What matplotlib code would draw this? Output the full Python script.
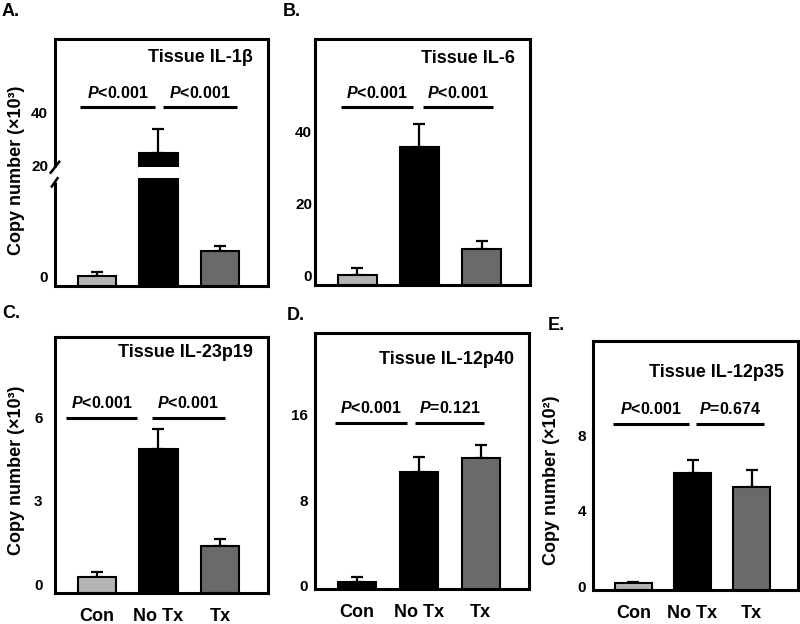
import numpy as np
import matplotlib
matplotlib.use('Agg')
import matplotlib.pyplot as plt

plt.rcParams['font.family'] = ['Liberation Sans', 'DejaVu Sans']
plt.rcParams['font.weight'] = 'bold'
plt.rcParams['mathtext.fontset'] = 'custom'
plt.rcParams['mathtext.rm'] = 'Liberation Sans:bold'
plt.rcParams['mathtext.it'] = 'Liberation Sans:italic:bold'
plt.rcParams['mathtext.bf'] = 'Liberation Sans:bold'

# data (copy number, scaled as on each y axis)
groups = ['Con', 'No Tx', 'Tx']

il1b_mean = [0.0, 24.9, 4.5]
il1b_err = [0.7, 9.1, 0.9]
il1b_p = ['$\\it{P}$<0.001', '$\\it{P}$<0.001']

il6_mean = [0.3, 35.9, 7.4]
il6_err = [1.8, 6.3, 2.4]
il6_p = ['$\\it{P}$<0.001', '$\\it{P}$<0.001']

il23_mean = [0.29, 4.86, 1.39]
il23_err = [0.17, 0.71, 0.25]
il23_p = ['$\\it{P}$<0.001', '$\\it{P}$<0.001']

il12p40_mean = [0.37, 10.65, 11.96]
il12p40_err = [0.47, 1.41, 1.22]
il12p40_p = ['$\\it{P}$<0.001', '$\\it{P}$=0.121']

il12p35_mean = [0.2, 6.0, 5.26]
il12p35_err = [0.08, 0.68, 0.9]
il12p35_p = ['$\\it{P}$<0.001', '$\\it{P}$=0.674']

light = '#b4b4b4'
dark = '#6a6a6a'
W, H = 800, 624

fig = plt.figure(figsize=(8, 6.24), dpi=100)


def make_ax(l, t, r, b):
    return fig.add_axes([l / W, 1 - b / H, (r - l) / W, (b - t) / H])


# broken axis for panel A: values above 20 are compressed
def fwd(v):
    v = np.asarray(v, dtype=float)
    return np.where(v <= 20, v, 20 + (v - 20) * 0.4775)


def inv(u):
    u = np.asarray(u, dtype=float)
    return np.where(u <= 20, u, 20 + (u - 20) / 0.4775)


def panel(ax, means, errs, colors, ylim, yticks, title, title_y, pvals,
          lines, line_y, tickpad, xlabels):
    x = np.arange(len(groups))
    bw = 0.62
    ylo = ylim[0]
    ax.errorbar(x, means, yerr=[[0] * len(errs), errs], fmt='none',
                ecolor='black', elinewidth=1.6, capsize=4, capthick=1.6, zorder=1)
    ax.bar(x, [m - ylo for m in means], bottom=ylo, width=bw, color=colors,
           edgecolor='black', linewidth=1.5, zorder=2)
    ax.set_xlim(-0.68, 2.78)
    ax.set_ylim(ylim)
    ax.set_yticks(yticks)
    ax.set_yticklabels([str(t) for t in yticks])
    ax.set_xticks(x)
    if xlabels:
        ax.set_xticklabels(groups, fontsize=13, fontweight='bold')
    else:
        ax.set_xticklabels([])
    ax.tick_params(axis='both', length=0)
    ax.tick_params(axis='y', labelsize=11, pad=tickpad)
    ax.tick_params(axis='x', pad=11)
    for s in ax.spines.values():
        s.set_linewidth(2.2)
    ax.text(0.93, title_y, title, transform=ax.transAxes, ha='right',
            va='center', fontsize=13, fontweight='bold')
    tr = ax.get_xaxis_transform()
    for (x0, x1), p in zip(lines, pvals):
        ax.plot([x0, x1], [line_y, line_y], color='black', lw=2.2,
                transform=tr, solid_capstyle='butt')
        ax.text((x0 + x1) / 2, line_y + 0.058, p, transform=tr, ha='center',
                va='center', fontsize=11.5)


# A
axA = make_ax(55, 39, 268, 286)
axA.set_yscale('function', functions=(fwd, inv))
panel(axA, il1b_mean, il1b_err, [light, 'black', dark], (-1.8, 67.9), [0, 20, 40],
      'Tissue IL-1\u03b2', 0.927, il1b_p, [(-0.27, 0.95), (1.08, 2.28)], 0.725, 5, False)
axA.bar(1, 2.0, bottom=17.7, width=0.66, color='white', linewidth=0, zorder=3)
axA.spines['left'].set_visible(False)
ytr = axA.get_yaxis_transform()
axA.plot([0, 0], [-1.8, 17.0], transform=ytr, color='black', lw=2.2, clip_on=False,
         solid_capstyle='butt')
axA.plot([0, 0], [19.8, 67.9], transform=ytr, color='black', lw=2.2, clip_on=False,
         solid_capstyle='butt')
axA.plot([-0.015, 0.012], [16.2, 17.7], transform=ytr, color='black', lw=1.8, clip_on=False)
axA.plot([-0.02, 0.02], [18.7, 21.4], transform=ytr, color='black', lw=1.8, clip_on=False)
axA.set_ylabel('Copy number (\u00d710\u00b3)', fontsize=13, fontweight='bold')
axA.yaxis.set_label_coords(-30 / 213, 0.47)

# B
axB = make_ax(315, 39, 530, 285)
panel(axB, il6_mean, il6_err, [light, 'black', dark], (-2.5, 65.8), [0, 20, 40],
      'Tissue IL-6', 0.92, il6_p, [(-0.26, 0.9), (1.05, 2.19)], 0.724, 2, False)

# C
axC = make_ax(55, 337, 268, 593)
panel(axC, il23_mean, il23_err, [light, 'black', dark], (-0.29, 8.86), [0, 3, 6],
      'Tissue IL-23p19', 0.94, il23_p, [(-0.5, 0.66), (0.89, 2.08)], 0.684, 9, True)
axC.set_ylabel('Copy number (\u00d710\u00b3)', fontsize=13, fontweight='bold')
axC.yaxis.set_label_coords(-30 / 213, 0.48)

# D
axD = make_ax(315, 333, 529, 589)
panel(axD, il12p40_mean, il12p40_err, ['black', 'black', dark], (-0.28, 23.6), [0, 8, 16],
      'Tissue IL-12p40', 0.895, il12p40_p, [(-0.35, 0.8), (0.93, 2.06)], 0.648, 5, True)

# E
axE = make_ax(593, 341, 798, 590)
panel(axE, il12p35_mean, il12p35_err, [light, 'black', dark], (-0.16, 12.95), [0, 4, 8],
      'Tissue IL-12p35', 0.875, il12p35_p, [(-0.35, 0.94), (1.06, 2.2)], 0.667, 5, True)
axE.set_ylabel('Copy number (\u00d710\u00b2)', fontsize=13, fontweight='bold')
axE.yaxis.set_label_coords(-33 / 205, 0.44)

# panel letters
for lab, px, py in [('A.', 2, 12), ('B.', 283, 12), ('C.', 2, 313),
                    ('D.', 287, 315), ('E.', 548, 325)]:
    fig.text(px / W, 1 - py / H, lab, ha='left', va='center', fontsize=13,
             fontweight='bold')

fig.savefig('out.png', dpi=100)
